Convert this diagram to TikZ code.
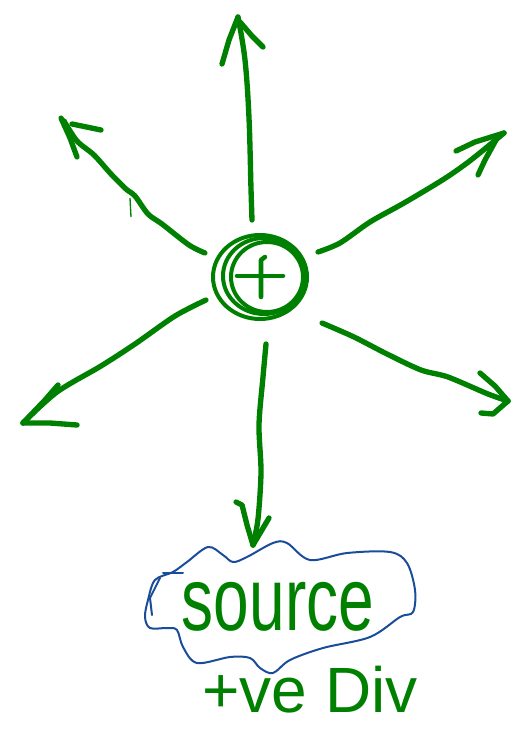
\documentclass[tikz,border=0pt]{standalone}
\usepackage{fontspec}
\setmainfont{Liberation Sans}
\definecolor{pen}{RGB}{0,128,0}
\definecolor{cloudblue}{RGB}{26,77,153}
\begin{document}
\begin{tikzpicture}[x=0.75pt,y=-0.75pt,
  penline/.style={draw=pen,line width=4pt,line cap=round,line join=round},
  ring/.style={draw=pen,line width=3pt},
  cloudline/.style={draw=cloudblue,line width=1.5pt,line cap=round,line join=round},
  handtext/.style={text=pen,inner sep=0pt,font=\fontsize{48}{48}\selectfont}]
\useasboundingbox (0,0) rectangle (526,735);
% charge
\node[circle,minimum size=70pt,inner sep=0pt] (q) at (261,277) {};
\draw[ring] (q.center) ++(-1,0) ellipse [x radius=47,y radius=42];
\draw[ring] (q.center) ++(3,-1) ellipse [x radius=41,y radius=38];
\draw[ring] (q.center) ++(6,0) ellipse [x radius=36,y radius=35];
\draw[penline,line width=3.4pt] (237,276) -- (283,276);
\draw[penline,line width=3.4pt] (265,257) -- (261,260) -- (261,297);
% coordinates of arrows
\coordinate (uS) at (252,220); \coordinate (uT) at (238,17);
\coordinate (ulS) at (205,253); \coordinate (ulT) at (64,121);
\coordinate (urS) at (318,252); \coordinate (urT) at (504,133);
\coordinate (llS) at (206,300); \coordinate (llT) at (23,423);
\coordinate (lrS) at (322,323); \coordinate (lrT) at (508,401);
\coordinate (dS) at (266,344); \coordinate (dT) at (253,545);
% up
\draw[penline] plot[smooth,tension=0.6] coordinates {(uS) (251,189) (249,118) (245,60) (uT)};
\draw[penline] (uT) -- (229,40) -- (222,64);
\draw[penline] (240,22) -- (252,36) -- (263,47);
% upper left
\draw[penline] plot[smooth,tension=0.5] coordinates {(ulS) (189,245) (162,224) (148,214) (135,196) (126,189) (111,174) (94,155) (77,141) (ulT)};
\draw[penline] (61,118) -- (70,138) -- (77,157);
\draw[penline] (72,124) -- (101,130);
\draw[draw=pen,line width=1pt] (130,198) -- (131,217);
% upper right
\draw[penline] plot[smooth,tension=0.5] coordinates {(urS) (340,243) (370,222) (404,203) (444,179) (471,160) (urT)};
\draw[penline] (urT) -- (475,142) -- (456,151);
\draw[penline] (496,140) -- (485,160) -- (478,175);
% lower left
\draw[penline] plot[smooth,tension=0.5] coordinates {(llS) (175,316) (135,344) (101,366) (57,392) (llT)};
\draw[penline] (llT) -- (45,400) -- (58,385);
\draw[penline] (llT) -- (50,423) -- (77,425);
% lower right
\draw[penline] plot[smooth,tension=0.5] coordinates {(lrS) (354,337) (387,354) (421,370) (448,377) (488,394) (lrT)};
\draw[penline] (480,373) -- (495,386) -- (lrT);
\draw[penline] (lrT) -- (493,414) -- (481,413);
% down
\draw[penline] plot[smooth,tension=0.5] coordinates {(dS) (263,377) (259,425) (261,472) (258,519) (dT)};
\draw[penline] (236,502) -- (242,505) -- (247,525) -- (dT);
\draw[penline] (269,518) -- (dT);
% cloud and labels
\node[handtext,anchor=base] (src) at (278,630) {\scalebox{1}[1.4]{source}};
\draw[cloudline] plot[smooth cycle,tension=0.55] coordinates {(145,617) (148,600) (155,580) (173,572) (187,562) (208,547) (223,555) (233,562) (247,557) (273,543) (287,543) (310,560) (347,553) (390,552) (407,563) (415,590) (413,612) (400,617) (370,637) (323,648) (290,660) (273,673) (260,668) (250,658) (230,657) (197,663) (183,647) (177,630) (167,628) (150,628)};
\draw[cloudline] (163,573) -- (183,573);
\draw[cloudline] (152,615) -- (150,598) -- (160,578);
\node[handtext,anchor=base] (div) at (310,712) {+ve Div};
\end{tikzpicture}
\end{document}
